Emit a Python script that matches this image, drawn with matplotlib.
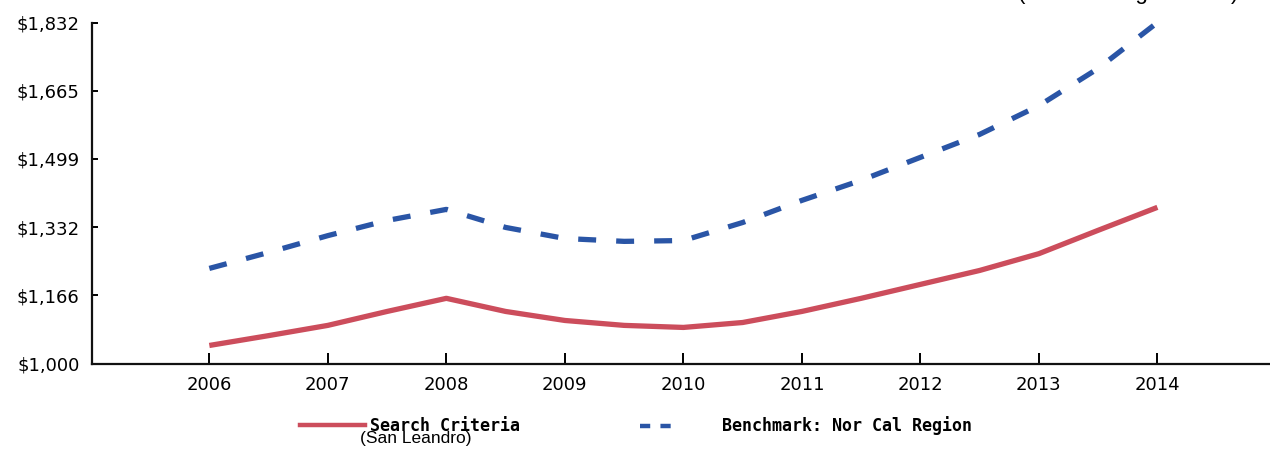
import matplotlib.pyplot as plt
from matplotlib.lines import Line2D

# half-year points
years = [2006, 2006.5, 2007, 2007.5, 2008, 2008.5, 2009, 2009.5, 2010,
         2010.5, 2011, 2011.5, 2012, 2012.5, 2013, 2013.5, 2014]
search = [1044, 1068, 1093, 1127, 1159, 1127, 1105, 1093, 1088,
          1100, 1127, 1159, 1193, 1227, 1268, 1325, 1381]
benchmark = [1232, 1271, 1312, 1349, 1376, 1332, 1305, 1298, 1300,
             1344, 1398, 1447, 1503, 1559, 1629, 1720, 1832]
yticks = [1000, 1166, 1332, 1499, 1665, 1832]
ytick_labels = ['$1,000', '$1,166', '$1,332', '$1,499', '$1,665', '$1,832']
xticks = [2006, 2007, 2008, 2009, 2010, 2011, 2012, 2013, 2014]

red = '#cc4d5c'
blue = '#2a55a6'

fig = plt.figure(figsize=(12.7, 4.5), dpi=100)
ax = fig.add_axes([92/1270, 1-363.5/450, 1-92/1270, (363.5-22.5)/450])

ax.plot(years, search, color=red, lw=3.8, solid_capstyle='butt')
ax.plot(years, benchmark, color=blue, lw=3.8, dashes=(3.4, 3.8))

ax.set_xlim(2005.01, 2014.95)
ax.set_ylim(1000, 1832)
ax.set_yticks(yticks)
ax.set_yticklabels(ytick_labels)
ax.set_xticks(xticks)
ax.set_xticklabels([str(x) for x in xticks])

for s in ['top', 'right']:
    ax.spines[s].set_visible(False)
for s in ['left', 'bottom']:
    ax.spines[s].set_linewidth(1.6)
    ax.spines[s].set_color('#111111')

ax.tick_params(axis='x', direction='in', length=8, width=1.4, pad=9, labelsize=13)
ax.tick_params(axis='y', direction='in', length=4, width=1.4, pad=9, labelsize=13)

# legend, built as two pieces so each key has its own length
h1 = Line2D([], [], color=red, lw=3.2)
h2 = Line2D([], [], color=blue, lw=3.2, dashes=(2.3, 2.3))
mono = {'family': 'DejaVu Sans Mono', 'weight': 'bold', 'size': 12}
fig.legend([h1], ['Search Criteria'], loc='center left',
           bbox_to_anchor=(300/1270, 1-426/450), frameon=False,
           borderpad=0, borderaxespad=0,
           handlelength=3.9, handletextpad=0.3, prop=mono)
fig.legend([h2], ['Benchmark: Nor Cal Region'], loc='center left',
           bbox_to_anchor=(640/1270, 1-426/450), frameon=False,
           borderpad=0, borderaxespad=0,
           handlelength=1.9, handletextpad=3.0, prop=mono)

fig.text(360/1270, 1-438/450, '(San Leandro)', family='Liberation Sans',
         fontsize=12.5, va='center', ha='left')
# header text sits mostly above the top edge, only its descenders show
fig.text(1238/1270, 1+1/450, '(Nor Cal Region Data)', family='Liberation Sans',
         fontsize=16, va='baseline', ha='right')

fig.savefig('out.png', dpi=100)
